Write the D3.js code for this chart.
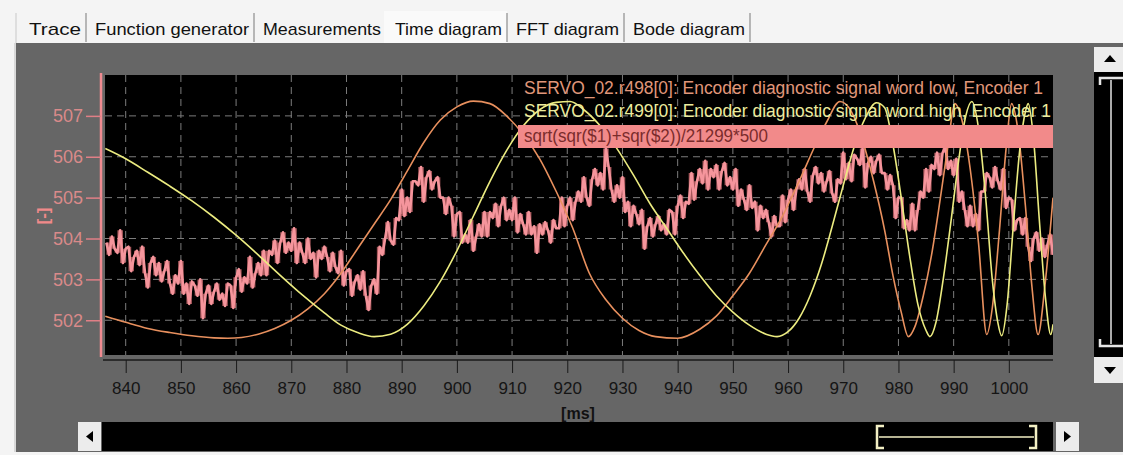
<!DOCTYPE html>
<html><head><meta charset="utf-8">
<script src="https://cdn.jsdelivr.net/npm/d3@7"></script>
<style>body{margin:0;background:#f3f3f3;overflow:hidden} svg{display:block}</style>
</head><body><svg id="c" width="1123" height="455"></svg>
<script>
// ---------- data ----------
const tabs = ["Trace","Function generator","Measurements","Time diagram","FFT diagram","Bode diagram"];
const xTicks = [840,850,860,870,880,890,900,910,920,930,940,950,960,970,980,990,1000];
const yTicks = [502,503,504,505,506,507];
const legendLabels = [
  "SERVO_02.r498[0]: Encoder diagnostic signal word low, Encoder 1",
  "SERVO_02.r499[0]: Encoder diagnostic signal word high, Encoder 1",
  "sqrt(sqr($1)+sqr($2))/21299*500"
];
// r498 (word low) – time [ms], value
const lowT = [836.3,840,844,848,852,856,858.5,861,864,867,870,873,876,879,882,885,888,891,894,897,900,903,906,909,912,915,918,921,924,927,930,933,936,940,944,947,950,953,956,959,962,965,967,969.4,971.5,973.5,975.5,977.5,979,980.5,981.8,983,984.5,986,987.5,989,990.2,991.5,993,994.5,996,997,998.3,999.5,1000.5,1001.7,1003,1004.2,1005.3,1006.5,1008];
const lowV = [502.10,501.95,501.80,501.70,501.62,501.57,501.56,501.58,501.66,501.80,502.00,502.28,502.65,503.15,503.75,504.35,504.95,505.65,506.35,506.90,507.22,507.36,507.30,507.00,506.55,505.95,505.15,504.25,503.15,502.50,502.05,501.75,501.60,501.56,501.78,502.10,502.60,503.15,503.85,504.55,505.40,506.30,506.85,507.35,507.10,506.40,505.40,504.20,503.10,502.20,501.60,501.85,502.60,503.60,504.90,506.30,507.30,506.90,505.70,503.90,501.65,502.30,504.20,506.20,507.30,506.60,504.80,502.80,501.65,502.80,505.00];
// r499 (word high)
const highT = [836.3,840,844,848,852,856,860,864,868,872,876,879,882,885,888,891,894,897,900,903,906,909,912,915,918,920.5,923,926,929,932,935,938,941,944,947,950,953,956,958,960,962,964,966,968,970,972,974,976,977.5,979,980.5,982,983.5,985,985.7,986.8,988,989.5,991,992.2,993.3,994.5,995.8,997,998,998.7,999.7,1000.8,1002,1003,1003.5,1004.5,1005.5,1006.6,1007.6,1008];
const highV = [506.20,505.95,505.62,505.28,504.92,504.52,504.08,503.60,503.10,502.62,502.18,501.88,501.70,501.60,501.66,501.90,502.35,502.95,503.70,504.55,505.40,506.15,506.75,507.15,507.33,507.35,507.15,506.75,506.20,505.55,504.85,504.25,503.65,503.10,502.60,502.20,501.88,501.66,501.60,501.72,502.05,502.60,503.35,504.30,505.30,506.25,506.95,507.32,507.20,506.30,505.00,503.60,502.40,501.75,501.60,501.95,502.90,504.40,506.00,507.00,507.35,506.70,505.00,503.00,501.95,501.62,502.40,504.30,506.20,507.10,507.30,506.40,504.50,502.60,501.65,501.90];
// sqrt(...) trace, one sample every 0.5 ms from 836.5 ms
const sqrtStart = 836.5, sqrtStep = 0.5;
const sqrtV = [
503.9,503.6,504.05,503.75,503.65,504.2,503.4,503.75,503.8,503.2,503.55,503.7,503.35,503.8,503.15,502.8,503.4,503.55,503.1,503.4,
502.95,503.2,503.45,502.9,502.65,503.1,502.9,503.45,502.65,502.9,502.4,502.95,502.85,502.6,503.0,502.05,502.65,502.85,502.4,502.7,
502.9,502.5,502.65,502.35,502.9,502.85,502.3,503.05,503.25,502.7,503.05,502.9,503.55,502.8,503.15,503.4,503.1,503.7,503.1,503.7,
503.6,503.95,503.4,503.9,504.15,503.65,503.9,503.7,504.25,503.4,503.9,503.65,503.4,504.0,503.5,503.65,503.05,503.7,503.5,503.8,
503.55,503.2,503.65,503.3,503.15,503.7,502.85,503.2,503.25,502.6,502.95,503.1,502.75,503.2,502.6,502.25,502.85,503.0,502.65,503.8,
503.6,504.0,504.4,503.95,503.85,504.5,504.45,505.2,504.55,505.0,504.65,505.4,505.4,505.3,505.75,504.9,505.5,505.65,505.2,505.4,
505.5,505.0,505.0,504.6,505.0,504.8,504.05,504.6,504.65,503.9,504.1,503.9,504.45,503.7,504.05,504.35,504.05,504.65,504.05,504.65,
504.5,504.85,504.3,504.8,505.0,504.45,504.7,504.45,505.0,504.15,504.6,504.35,504.1,504.65,504.1,504.3,503.65,504.35,504.1,504.4,
504.2,503.9,504.45,504.25,504.25,505.0,504.3,504.8,505.0,504.45,504.9,505.15,504.9,505.5,505.0,504.8,505.45,505.7,505.3,505.6,
505.2,506.2,505.75,505.2,504.9,505.3,505.0,505.5,504.65,504.9,504.3,504.8,504.6,504.35,504.7,503.75,504.3,504.5,504.05,504.35,
504.55,504.2,504.35,504.1,504.7,504.65,504.1,504.8,505.05,504.5,504.9,504.85,505.6,504.95,505.4,505.7,505.35,505.9,505.2,505.7,
505.5,505.8,505.2,505.65,505.85,505.3,505.5,505.2,505.7,504.8,505.2,504.95,504.7,505.3,504.75,504.9,504.2,504.8,504.5,504.7,
504.4,504.05,504.55,504.3,504.3,505.05,504.4,504.95,505.2,504.7,505.2,505.45,505.2,505.7,505.15,504.9,505.55,505.75,505.35,505.6,
505.15,505.4,505.65,505.1,504.9,505.45,505.35,506.1,505.45,505.85,505.4,506.05,505.95,505.8,506.2,505.25,505.85,506.0,505.6,505.9,
506.05,505.6,505.6,505.2,505.55,505.3,504.5,505.0,505.0,504.25,504.45,504.2,504.85,504.2,504.7,505.15,505.0,505.7,505.15,505.8,
505.7,506.1,505.55,506.1,506.25,505.7,505.9,505.55,505.95,504.9,505.15,504.7,504.3,504.8,504.3,504.6,504.2,505.15,505.15,505.6,
505.5,505.25,505.75,505.4,505.2,505.7,504.75,505.0,504.95,504.2,504.45,504.5,504.1,504.5,503.8,503.45,504.0,504.15,503.7,504.0,
503.55,503.85,504.1,503.6
];

// ---------- drawing ----------
const svg = d3.select("#c");
const W = 1123, H = 455;
const P = {l:105, r:1053, t:75, b:355};
const FONT = "Liberation Sans, Arial, sans-serif";

// tab strip
svg.append("rect").attr("x",0).attr("y",0).attr("width",W).attr("height",H).attr("fill","#f4f4f4");
const tabX = [22, 88, 256, 388, 509, 626, 752];
const tabG = svg.append("g");
tabs.forEach((t,i)=>{
  const x0 = tabX[i], x1 = tabX[i+1];
  if (i===3) tabG.append("rect").attr("x",x0-4).attr("y",11).attr("width",x1-x0+2).attr("height",33).attr("fill","#fafafa");
  tabG.append("text").attr("x",(x0+x1)/2).attr("y",35).attr("text-anchor","middle")
    .attr("font-family",FONT).attr("font-size",17).attr("fill","#111")
    .attr("textLength", (x1-x0)-14).attr("lengthAdjust","spacingAndGlyphs").text(t);
  if (i!==2) tabG.append("line").attr("x1",x1-2).attr("x2",x1-2).attr("y1",13).attr("y2",42).attr("stroke","#8c8c8c").attr("stroke-width",1.2);
});
tabG.append("line").attr("x1",16).attr("x2",16).attr("y1",13).attr("y2",44).attr("stroke","#c8c8c8");

// gray panel
svg.append("rect").attr("x",15).attr("y",43).attr("width",W-15).attr("height",409).attr("fill","#666666");
svg.append("line").attr("x1",15).attr("x2",15).attr("y1",43).attr("y2",452).attr("stroke","#d8d8d8").attr("stroke-width",2);

// scales
const x = d3.scaleLinear().domain([836.25, 1008.0]).range([P.l, P.r]);
const y = d3.scaleLinear().domain([501.15, 508.0]).range([P.b, P.t]);

// plot background
svg.append("rect").attr("x",P.l).attr("y",P.t).attr("width",P.r-P.l).attr("height",P.b-P.t).attr("fill","#000");
svg.append("defs").append("clipPath").attr("id","clip").append("rect")
  .attr("x",P.l).attr("y",P.t).attr("width",P.r-P.l).attr("height",P.b-P.t);
const plot = svg.append("g").attr("clip-path","url(#clip)");

// grid
plot.selectAll(".gx").data(xTicks).join("line")
  .attr("x1",d=>x(d)).attr("x2",d=>x(d)).attr("y1",P.t).attr("y2",P.b)
  .attr("stroke","#7c7c7c").attr("stroke-dasharray","7,5");
plot.selectAll(".gy").data(yTicks).join("line")
  .attr("y1",d=>y(d)).attr("y2",d=>y(d)).attr("x1",P.l).attr("x2",P.r)
  .attr("stroke","#7c7c7c").attr("stroke-dasharray","7,5");

// sqrt trace: band swept between successive samples + the sample line
const sqrtData = sqrtV.map((v,i)=>({t: sqrtStart + i*sqrtStep, v, n: sqrtV[Math.min(i+1, sqrtV.length-1)]}));
plot.append("path").datum(sqrtData)
  .attr("d", d3.area().x(d=>x(d.t)).y0(d=>y(Math.min(d.v,d.n))).y1(d=>y(Math.max(d.v,d.n))).curve(d3.curveStepAfter))
  .attr("fill","#ec7c82").attr("fill-opacity",0.7);
plot.append("path").datum(sqrtData)
  .attr("d", d3.line().x(d=>x(d.t)).y(d=>y(d.v)).curve(d3.curveLinear))
  .attr("fill","none").attr("stroke","#f5959c").attr("stroke-width",2.6).attr("stroke-linejoin","round");

const lowData = lowT.map((t,i)=>[t, lowV[i]]);
const highData = highT.map((t,i)=>[t, highV[i]]);
const lineGen = d3.line().x(d=>x(d[0])).y(d=>y(d[1])).curve(d3.curveMonotoneX);
plot.append("path").datum(lowData).attr("d",lineGen).attr("fill","none").attr("stroke","#e8905e").attr("stroke-width",1.6);
plot.append("path").datum(highData).attr("d",lineGen).attr("fill","none").attr("stroke","#ecec80").attr("stroke-width",1.6);

// legend
const lg = plot.append("g").attr("font-family",FONT).attr("font-size",18);
lg.append("text").attr("x",524).attr("y",94).attr("fill","#e0977a").attr("textLength",519).attr("lengthAdjust","spacingAndGlyphs").text(legendLabels[0]);
lg.append("text").attr("x",524).attr("y",117).attr("fill","#ecec9e").attr("textLength",527).attr("lengthAdjust","spacingAndGlyphs").text(legendLabels[1]);
lg.append("rect").attr("x",518).attr("y",125).attr("width",P.r-518).attr("height",23).attr("fill","#f28a8a");
lg.append("text").attr("x",524).attr("y",142).attr("fill","#7a2c2c").attr("textLength",244).attr("lengthAdjust","spacingAndGlyphs").text(legendLabels[2]);

// y axis
const yAxisG = svg.append("g").attr("transform",`translate(101,0)`);
yAxisG.call(d3.axisLeft(y).tickValues(d3.range(501.2, 508.0, 0.2)).tickSize(7).tickFormat(""));
yAxisG.call(d3.axisLeft(y).tickValues(yTicks).tickSize(15).tickPadding(3).tickFormat(d3.format("d")));
yAxisG.selectAll("path.domain").attr("stroke","#f08a90").attr("stroke-width",2.5).attr("d",`M0,${P.t-2}V${P.b+2}`);
yAxisG.selectAll("line").attr("stroke","#e07f86").attr("stroke-width",1.5);
yAxisG.selectAll("text").attr("fill","#d98a8a").attr("font-size",18).attr("font-family",FONT);
svg.append("text").attr("transform","translate(49,216) rotate(-90)").attr("text-anchor","middle")
  .attr("font-family",FONT).attr("font-weight","bold").attr("font-size",17)
  .attr("fill","#f08a8a").text("[-]");

// x axis
const xAxisG = svg.append("g").attr("transform",`translate(0,360)`);
xAxisG.call(d3.axisBottom(x).tickValues(d3.range(838, 1008, 2)).tickSize(7).tickFormat(""));
xAxisG.call(d3.axisBottom(x).tickValues(xTicks).tickSize(13).tickPadding(9).tickFormat(d3.format("d")));
xAxisG.selectAll("path.domain").attr("stroke","#1a1a1a").attr("stroke-width",1.5).attr("d",`M103,0H${P.r}`);
xAxisG.selectAll("line").attr("stroke","#1a1a1a");
xAxisG.selectAll("text").attr("fill","#151515").attr("font-size",17).attr("font-family",FONT);
svg.append("text").attr("x",578).attr("y",419).attr("text-anchor","middle")
  .attr("font-family",FONT).attr("font-weight","bold").attr("font-size",16)
  .attr("fill","#111").text("[ms]");

// horizontal scrollbar
svg.append("rect").attr("x",78).attr("y",422).attr("width",23).attr("height",29).attr("fill","#ececec");
svg.append("path").attr("d","M86,436.5 L93,431 L93,442 Z").attr("fill","#000");
svg.append("rect").attr("x",102).attr("y",422).attr("width",P.r-102).attr("height",29).attr("fill","#000");
svg.append("rect").attr("x",1056).attr("y",422).attr("width",23).attr("height",29).attr("fill","#ececec");
svg.append("path").attr("d","M1071,436.5 L1064,431 L1064,442 Z").attr("fill","#000");
const hb = svg.append("g").attr("stroke","#f2efc4").attr("fill","none").attr("stroke-width",2.5);
hb.append("path").attr("d","M884,426 H877 V448 H884");
hb.append("path").attr("d","M1029,426 H1036 V448 H1029");
hb.append("line").attr("x1",879).attr("x2",1034).attr("y1",437).attr("y2",437).attr("stroke-width",1.5);

// vertical scrollbar
svg.append("rect").attr("x",1094).attr("y",47).attr("width",29).attr("height",25).attr("fill","#ececec");
svg.append("path").attr("d","M1110,55 L1104,62 L1116,62 Z").attr("fill","#000");
svg.append("rect").attr("x",1094).attr("y",72).attr("width",29).attr("height",285).attr("fill","#000");
svg.append("rect").attr("x",1094).attr("y",357).attr("width",29).attr("height",26).attr("fill","#ececec");
svg.append("path").attr("d","M1110,374 L1104,367 L1116,367 Z").attr("fill","#000");
const vb = svg.append("g").attr("stroke","#e6e6e6").attr("fill","none").attr("stroke-width",2.5);
vb.append("path").attr("d","M1100,85 V78 H1123");
vb.append("path").attr("d","M1100,339 V346 H1123");
vb.append("line").attr("x1",1111).attr("x2",1111).attr("y1",80).attr("y2",344).attr("stroke-width",1.5);
</script></body></html>
